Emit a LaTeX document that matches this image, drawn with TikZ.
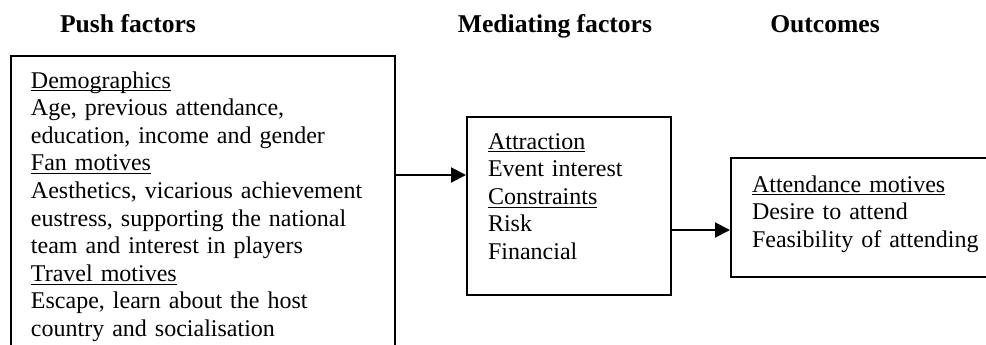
\documentclass[tikz,border=0pt]{standalone}
\usepackage{fontspec}
\setmainfont{Liberation Serif}
\usepackage{tikz}
\usetikzlibrary{positioning, arrows.meta, calc}
\newcommand{\ulabel}[1]{\underline{\smash{#1}}}

\begin{document}
\begin{tikzpicture}[x=0.5pt, y=-0.5pt,
    factorbox/.style={draw, line width=1pt, anchor=north west, align=left,
          inner ysep=0pt, font=\fontsize{12}{13.8}\selectfont},
    heading/.style={anchor=base, font=\fontsize{12.8}{14}\selectfont\bfseries},
    flow/.style={line width=1pt, -{Triangle[length=7.5pt, width=7.5pt]}}]
    \useasboundingbox (0,0) rectangle (986,344);

    % column headings
    \node[heading] (pushhead) at (128,32) {Push factors};
    \node[heading] (medhead) at (555,32) {Mediating factors};
    \node[heading] (outhead) at (825,32) {Outcomes};

    % boxes
    \node[factorbox, inner xsep=10pt, text width=172pt,
          text height=16pt, text depth=137pt] (push) at (10,55) {%
      \ulabel{Demographics}\\
      Age, previous attendance,\\
      education, income and gender\\
      \ulabel{Fan motives}\\
      Aesthetics, vicarious achievement\\
      eustress, supporting the national\\
      team and interest in players\\
      \ulabel{Travel motives}\\
      Escape, learn about the host\\
      country and socialisation};
    \node[factorbox, inner xsep=10.5pt, text width=81pt,
          text height=16pt, text depth=73pt] (med) at (466,116) {%
      \ulabel{Attraction}\\
      Event interest\\
      \ulabel{Constraints}\\
      Risk\\
      Financial};
    \node[factorbox, inner xsep=10.5pt, text width=119pt,
          text height=17pt, text depth=42.5pt] (out) at (730,157) {%
      \ulabel{Attendance motives}\\
      Desire to attend\\
      Feasibility of attending};

    % arrows
    \draw[flow] ([yshift=15.5pt]med.west -| push.east) -- ([yshift=15.5pt]med.west);
    \draw[flow] ([yshift=-6.25pt]out.west -| med.east) -- ([yshift=-6.25pt]out.west);
\end{tikzpicture}
\end{document}
